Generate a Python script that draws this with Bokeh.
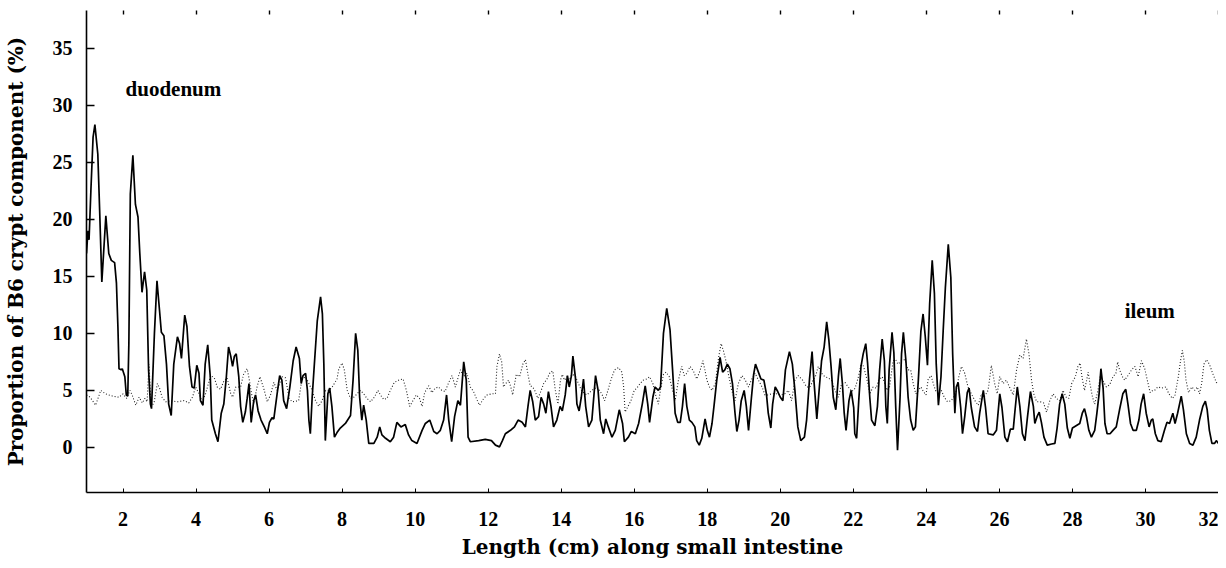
from bokeh.plotting import figure
from bokeh.models import LinearAxis, FixedTicker, Label, Range1d
from bokeh.embed import file_html
from bokeh.resources import INLINE

# B6 crypt component (solid line): position (cm), proportion (%)
b6_x = [1.0, 1.04, 1.07, 1.12, 1.18, 1.23, 1.31, 1.36, 1.42, 1.53, 1.61, 1.68, 1.77, 1.82, 1.86, 1.89,
        1.95, 1.98, 2.05, 2.09, 2.13, 2.16, 2.20, 2.27, 2.34, 2.41, 2.46, 2.52, 2.59, 2.65, 2.70, 2.75,
        2.78, 2.86, 2.93, 3.0, 3.05, 3.12, 3.19, 3.25, 3.32, 3.39, 3.49, 3.55, 3.60, 3.69, 3.75, 3.82,
        3.89, 3.95, 4.02, 4.08, 4.12, 4.19, 4.25, 4.32, 4.39, 4.43, 4.53, 4.60, 4.69, 4.76, 4.83, 4.89,
        4.95, 5.0, 5.05, 5.10, 5.17, 5.22, 5.28, 5.35, 5.40, 5.45, 5.51, 5.58, 5.63, 5.70, 5.78, 5.87,
        5.95, 6.01, 6.08, 6.13, 6.22, 6.29, 6.35, 6.40, 6.48, 6.57, 6.66, 6.74, 6.83, 6.88, 6.93, 7.0,
        7.05, 7.09, 7.13, 7.18, 7.24, 7.32, 7.41, 7.46, 7.50, 7.54, 7.61, 7.66, 7.72, 7.79, 7.86, 7.95,
        8.09, 8.23, 8.30, 8.37, 8.43, 8.48, 8.54, 8.59, 8.66, 8.73, 8.87, 8.96, 9.03, 9.09, 9.19, 9.32,
        9.41, 9.50, 9.61, 9.73, 9.82, 9.91, 10.05, 10.19, 10.28, 10.40, 10.51, 10.60, 10.69, 10.78, 10.86, 10.92,
        11.0, 11.08, 11.17, 11.24, 11.33, 11.40, 11.45, 11.51, 11.74, 11.92, 12.09, 12.20, 12.31, 12.39, 12.47, 12.61,
        12.72, 12.82, 12.93, 13.02, 13.09, 13.15, 13.22, 13.29, 13.38, 13.45, 13.52, 13.58, 13.65, 13.72, 13.79, 13.88,
        13.97, 14.03, 14.11, 14.17, 14.22, 14.28, 14.32, 14.39, 14.43, 14.49, 14.55, 14.61, 14.67, 14.75, 14.84, 14.94,
        15.01, 15.07, 15.16, 15.22, 15.29, 15.39, 15.48, 15.59, 15.68, 15.73, 15.84, 15.92, 16.03, 16.12, 16.22, 16.30,
        16.37, 16.42, 16.51, 16.57, 16.66, 16.72, 16.80, 16.89, 16.98, 17.05, 17.12, 17.19, 17.26, 17.32, 17.38, 17.44,
        17.51, 17.58, 17.66, 17.71, 17.78, 17.85, 17.94, 18.0, 18.06, 18.13, 18.19, 18.26, 18.35, 18.42, 18.48, 18.55,
        18.62, 18.69, 18.76, 18.81, 18.87, 18.93, 19.01, 19.07, 19.13, 19.21, 19.27, 19.32, 19.40, 19.47, 19.55, 19.62,
        19.67, 19.74, 19.79, 19.86, 19.93, 20.0, 20.07, 20.14, 20.25, 20.33, 20.40, 20.48, 20.56, 20.66, 20.72, 20.80,
        20.87, 20.92, 21.0, 21.07, 21.13, 21.20, 21.27, 21.33, 21.39, 21.45, 21.52, 21.59, 21.64, 21.70, 21.75, 21.80,
        21.88, 21.94, 22.01, 22.04, 22.09, 22.15, 22.21, 22.27, 22.34, 22.39, 22.45, 22.50, 22.59, 22.66, 22.72, 22.79,
        22.85, 22.89, 22.93, 22.98, 23.06, 23.11, 23.16, 23.21, 23.28, 23.32, 23.37, 23.44, 23.50, 23.57, 23.64, 23.70,
        23.78, 23.85, 23.91, 23.97, 24.03, 24.09, 24.16, 24.22, 24.27, 24.33, 24.40, 24.46, 24.52, 24.60, 24.67, 24.72,
        24.78, 24.82, 24.87, 24.94, 24.99, 25.05, 25.12, 25.17, 25.23, 25.32, 25.40, 25.46, 25.56, 25.62, 25.69, 25.83,
        25.92, 26.01, 26.07, 26.15, 26.22, 26.30, 26.38, 26.42, 26.49, 26.56, 26.63, 26.70, 26.77, 26.85, 26.93, 26.97,
        27.03, 27.09, 27.15, 27.22, 27.31, 27.43, 27.52, 27.58, 27.65, 27.72, 27.79, 27.86, 27.93, 28.0, 28.10, 28.20,
        28.27, 28.33, 28.39, 28.45, 28.52, 28.61, 28.67, 28.73, 28.78, 28.84, 28.89, 28.95, 29.03, 29.11, 29.20, 29.29,
        29.38, 29.46, 29.52, 29.59, 29.66, 29.75, 29.82, 29.88, 29.95, 30.02, 30.10, 30.16, 30.20, 30.27, 30.34, 30.43,
        30.52, 30.59, 30.66, 30.75, 30.81, 30.88, 30.98, 31.04, 31.12, 31.21, 31.30, 31.39, 31.48, 31.57, 31.64, 31.69,
        31.75, 31.82, 31.89, 31.94, 32.0]
b6_y = [17.0, 19.0, 18.2, 22.5, 27.2, 28.3, 25.7, 20.8, 14.5, 20.3, 17.0, 16.4, 16.2, 14.4, 10.6, 6.9,
        6.8, 6.9, 6.2, 4.6, 4.5, 9.1, 22.2, 25.6, 21.3, 20.2, 17.0, 13.6, 15.4, 13.8, 6.8, 3.8,
        3.4, 10.0, 14.6, 12.0, 10.1, 9.8, 7.3, 3.8, 2.8, 7.3, 9.7, 9.1, 7.8, 11.6, 10.6, 7.1,
        5.3, 5.2, 7.2, 6.5, 4.1, 3.7, 7.3, 9.0, 6.2, 2.4, 1.2, 0.5, 3.0, 3.8, 6.2, 8.8,
        8.0, 7.1, 8.0, 8.2, 6.2, 3.6, 2.2, 3.1, 4.3, 5.6, 2.2, 4.1, 4.6, 3.2, 2.4, 1.8,
        1.2, 2.2, 2.6, 2.5, 4.7, 6.3, 5.9, 4.1, 3.4, 5.3, 7.6, 8.8, 7.8, 5.6, 6.3, 6.5,
        5.0, 2.4, 1.2, 4.4, 7.3, 11.1, 13.2, 11.7, 7.3, 0.6, 4.7, 5.2, 3.6, 0.9, 1.3, 1.7,
        2.1, 2.8, 5.9, 10.0, 8.5, 4.4, 2.4, 3.7, 2.4, 0.35, 0.35, 0.9, 1.8, 1.1, 0.8, 0.5,
        0.9, 2.2, 1.8, 2.0, 1.1, 0.6, 0.35, 1.5, 2.1, 2.4, 1.4, 1.2, 1.5, 2.4, 4.6, 2.4,
        0.5, 2.7, 4.1, 3.7, 7.5, 5.9, 0.9, 0.5, 0.6, 0.7, 0.6, 0.2, 0.05, 0.6, 1.2, 1.5,
        1.8, 2.4, 2.2, 1.8, 3.6, 5.0, 4.0, 2.4, 2.7, 4.4, 3.8, 3.0, 4.9, 3.6, 1.8, 2.4,
        3.6, 3.2, 4.6, 6.3, 5.3, 6.3, 8.0, 6.1, 3.8, 3.2, 4.4, 6.0, 3.6, 1.8, 2.4, 6.3,
        5.0, 2.4, 1.2, 2.5, 1.8, 0.9, 1.5, 3.3, 2.1, 0.5, 0.9, 1.4, 1.2, 2.1, 3.8, 5.4,
        3.8, 2.2, 4.4, 5.3, 5.0, 5.3, 10.0, 12.2, 10.3, 6.8, 3.0, 2.2, 2.2, 3.6, 5.6, 3.6,
        2.4, 2.2, 1.8, 0.6, 0.2, 0.8, 2.5, 1.5, 0.9, 2.1, 3.8, 5.9, 7.9, 6.6, 6.8, 7.3,
        6.9, 5.6, 3.0, 1.4, 2.4, 4.1, 5.0, 3.6, 1.5, 4.4, 6.4, 7.3, 6.6, 6.0, 5.9, 4.7,
        3.0, 1.7, 3.8, 5.3, 4.9, 4.4, 4.1, 6.8, 8.4, 7.3, 5.0, 1.8, 0.6, 0.9, 2.4, 6.0,
        8.4, 5.9, 2.5, 5.3, 7.6, 8.8, 11.0, 9.4, 7.1, 4.4, 3.3, 6.2, 7.8, 5.6, 3.0, 1.5,
        4.1, 5.0, 3.5, 1.2, 0.8, 4.2, 7.1, 8.2, 9.1, 7.4, 4.4, 2.4, 1.9, 3.6, 6.8, 9.5,
        7.6, 3.6, 2.1, 6.8, 10.1, 8.3, 3.6, -0.24, 4.4, 8.2, 10.1, 7.6, 4.4, 2.4, 1.5, 1.8,
        5.9, 10.2, 11.7, 9.7, 7.2, 12.6, 16.4, 13.5, 7.3, 3.7, 6.2, 10.2, 14.0, 17.8, 14.9, 8.2,
        3.0, 5.3, 5.7, 3.5, 1.2, 2.7, 4.8, 5.2, 3.5, 1.8, 1.4, 3.0, 5.0, 3.5, 1.2, 1.1,
        1.5, 4.7, 3.5, 0.9, 0.5, 1.6, 1.6, 3.0, 5.3, 3.6, 1.2, 0.6, 2.7, 4.9, 3.6, 2.1,
        2.7, 3.1, 2.2, 0.9, 0.2, 0.3, 0.35, 1.7, 3.8, 4.7, 3.8, 1.7, 0.8, 1.7, 1.9, 2.1,
        3.0, 3.4, 2.6, 1.5, 0.9, 1.5, 3.0, 4.7, 6.9, 5.2, 2.1, 1.2, 1.2, 1.5, 1.8, 3.3,
        4.7, 5.1, 3.8, 2.1, 1.5, 1.5, 2.4, 3.8, 4.7, 3.0, 1.8, 2.4, 2.5, 1.2, 0.6, 0.5,
        1.5, 2.2, 2.1, 3.0, 2.1, 3.0, 4.5, 3.3, 1.2, 0.35, 0.2, 0.9, 2.4, 3.6, 4.05, 3.3,
        1.5, 0.35, 0.35, 0.6, 0.35]

# Comparison (dotted line)
ref_x = [1.0, 1.1, 1.25, 1.39, 1.52, 1.71, 1.89, 2.0, 2.10, 2.19, 2.25, 2.35, 2.44, 2.53, 2.60, 2.66,
         2.71, 2.77, 2.85, 2.94, 3.0, 3.07, 3.17, 3.31, 3.49, 3.67, 3.80, 3.90, 3.99, 4.08, 4.17, 4.26,
         4.40, 4.50, 4.58, 4.67, 4.76, 4.85, 4.95, 5.0, 5.09, 5.22, 5.30, 5.40, 5.46, 5.52, 5.58, 5.67,
         5.75, 5.86, 5.95, 6.04, 6.13, 6.22, 6.36, 6.45, 6.55, 6.63, 6.81, 6.90, 7.0, 7.09, 7.18, 7.27,
         7.36, 7.45, 7.55, 7.64, 7.73, 7.86, 7.91, 8.0, 8.06, 8.14, 8.23, 8.32, 8.41, 8.50, 8.59, 8.68,
         8.78, 8.88, 8.98, 9.05, 9.14, 9.23, 9.32, 9.43, 9.55, 9.67, 9.76, 9.85, 9.94, 10.03, 10.12, 10.19,
         10.26, 10.37, 10.46, 10.55, 10.64, 10.73, 10.82, 10.92, 11.01, 11.10, 11.24, 11.33, 11.42, 11.51, 11.60, 11.69,
         11.76, 11.88, 11.97, 12.10, 12.20, 12.24, 12.31, 12.37, 12.42, 12.48, 12.56, 12.62, 12.67, 12.77, 12.86, 12.95,
         13.02, 13.09, 13.15, 13.22, 13.29, 13.36, 13.44, 13.52, 13.61, 13.70, 13.77, 13.84, 13.91, 13.98, 14.03, 14.09,
         14.16, 14.22, 14.29, 14.38, 14.47, 14.57, 14.70, 14.84, 14.98, 15.11, 15.19, 15.28, 15.37, 15.46, 15.57, 15.66,
         15.71, 15.75, 15.83, 15.91, 16.0, 16.07, 16.16, 16.25, 16.34, 16.42, 16.51, 16.60, 16.66, 16.73, 16.80, 16.87,
         16.96, 17.05, 17.12, 17.21, 17.30, 17.37, 17.44, 17.53, 17.62, 17.71, 17.80, 17.88, 17.94, 17.99, 18.06, 18.13,
         18.22, 18.31, 18.38, 18.44, 18.51, 18.58, 18.67, 18.76, 18.85, 18.95, 19.04, 19.13, 19.22, 19.31, 19.40, 19.50,
         19.58, 19.67, 19.76, 19.89, 20.03, 20.12, 20.22, 20.31, 20.40, 20.49, 20.61, 20.72, 20.81, 20.90, 20.97, 21.04,
         21.13, 21.22, 21.31, 21.40, 21.50, 21.59, 21.68, 21.77, 21.86, 21.96, 22.05, 22.14, 22.22, 22.28, 22.37, 22.45,
         22.54, 22.63, 22.69, 22.79, 22.86, 22.93, 22.99, 23.09, 23.16, 23.22, 23.32, 23.41, 23.50, 23.57, 23.64, 23.71,
         23.78, 23.85, 23.92, 23.99, 24.05, 24.13, 24.19, 24.25, 24.33, 24.41, 24.49, 24.58, 24.68, 24.80, 24.89, 24.96,
         25.05, 25.14, 25.23, 25.33, 25.42, 25.51, 25.60, 25.69, 25.78, 25.87, 25.94, 26.01, 26.10, 26.19, 26.29, 26.38,
         26.47, 26.56, 26.65, 26.74, 26.81, 26.88, 26.94, 27.02, 27.12, 27.21, 27.29, 27.38, 27.47, 27.56, 27.65, 27.74,
         27.83, 27.90, 27.98, 28.08, 28.15, 28.21, 28.26, 28.33, 28.39, 28.43, 28.48, 28.55, 28.61, 28.70, 28.76, 28.83,
         28.93, 29.02, 29.11, 29.19, 29.24, 29.29, 29.37, 29.43, 29.52, 29.62, 29.71, 29.80, 29.89, 29.98, 30.05, 30.13,
         30.20, 30.25, 30.34, 30.45, 30.56, 30.64, 30.74, 30.81, 30.90, 30.96, 31.01, 31.06, 31.11, 31.18, 31.27, 31.35,
         31.42, 31.48, 31.54, 31.60, 31.67, 31.75, 31.84, 31.94, 32.0]
ref_y = [4.6, 4.4, 3.7, 5.0, 4.7, 4.5, 4.4, 4.7, 4.3, 5.0, 4.6, 3.7, 4.4, 3.9, 4.3, 4.0,
         7.3, 3.6, 3.9, 5.6, 5.2, 4.4, 4.0, 4.1, 4.0, 4.1, 3.9, 4.4, 5.3, 4.7, 4.0, 4.7,
         6.3, 6.1, 5.3, 5.1, 5.8, 6.1, 4.7, 4.4, 5.3, 5.3, 6.4, 6.9, 5.9, 4.7, 3.8, 5.3,
         6.2, 5.1, 4.0, 4.6, 5.7, 5.0, 6.2, 6.1, 4.3, 4.0, 4.1, 6.0, 6.2, 5.6, 5.0, 4.1,
         3.6, 4.1, 5.0, 5.0, 5.3, 6.0, 6.9, 7.4, 6.8, 5.0, 4.3, 4.4, 4.7, 5.0, 4.7, 4.3,
         4.0, 4.4, 5.0, 4.6, 4.2, 4.3, 5.0, 5.7, 5.9, 6.0, 5.0, 3.6, 4.1, 4.6, 4.3, 3.6,
         4.8, 5.4, 4.8, 5.2, 5.3, 5.0, 4.9, 5.7, 6.3, 5.3, 6.8, 6.2, 6.5, 5.3, 4.9, 4.2,
         3.7, 4.3, 4.6, 4.7, 4.7, 7.1, 8.2, 7.5, 5.3, 5.6, 5.9, 5.3, 4.6, 6.4, 6.2, 7.3,
         7.7, 6.4, 5.4, 5.3, 4.9, 4.3, 4.9, 5.6, 6.0, 6.6, 6.7, 5.0, 3.8, 5.9, 6.4, 5.9,
         6.2, 5.9, 6.4, 6.3, 5.6, 4.9, 4.6, 5.0, 5.3, 4.7, 4.1, 5.0, 6.0, 6.8, 7.0, 6.6,
         5.3, 3.1, 3.6, 4.1, 5.0, 5.2, 5.6, 5.9, 6.0, 6.2, 5.6, 4.4, 3.8, 5.3, 6.4, 6.6,
         6.2, 5.0, 4.1, 5.9, 7.1, 6.3, 6.5, 7.1, 6.7, 6.0, 6.7, 7.6, 6.7, 5.9, 5.3, 5.0,
         5.6, 7.9, 9.1, 8.5, 7.6, 6.4, 5.0, 4.1, 5.6, 6.3, 5.9, 5.3, 6.0, 6.5, 5.9, 5.3,
         4.6, 4.6, 4.7, 4.7, 4.6, 4.7, 5.0, 4.1, 5.9, 6.3, 5.9, 5.3, 5.3, 5.9, 6.3, 7.1,
         6.5, 6.2, 6.1, 5.9, 5.0, 4.4, 5.6, 5.7, 5.3, 4.9, 5.2, 6.2, 7.4, 7.1, 6.0, 4.7,
         5.3, 5.2, 5.9, 6.2, 5.6, 5.0, 5.3, 7.6, 7.7, 7.3, 7.6, 7.7, 6.8, 6.8, 5.6, 4.7,
         5.0, 5.3, 4.9, 4.6, 6.0, 6.3, 5.6, 5.0, 4.7, 5.0, 4.4, 4.0, 4.1, 4.7, 6.2, 7.1,
         6.5, 5.3, 4.7, 4.1, 3.7, 4.7, 4.5, 5.0, 7.2, 5.6, 4.7, 6.2, 5.6, 5.9, 5.2, 4.6,
         6.8, 8.1, 7.8, 9.5, 8.2, 5.9, 4.7, 4.0, 4.0, 3.9, 3.1, 4.1, 4.7, 4.3, 4.1, 5.0,
         4.4, 4.3, 5.6, 6.2, 7.1, 7.4, 6.2, 5.0, 5.9, 6.6, 5.6, 4.4, 3.8, 5.0, 6.2, 5.9,
         5.3, 5.5, 6.2, 6.5, 7.5, 6.8, 6.2, 5.9, 6.3, 6.8, 7.1, 6.2, 7.6, 6.9, 5.9, 4.8,
         5.0, 5.0, 5.3, 5.2, 5.3, 4.7, 4.3, 4.6, 6.2, 7.6, 8.5, 7.6, 5.9, 4.8, 5.3, 5.0,
         5.3, 4.7, 5.6, 7.3, 7.7, 7.3, 6.5, 5.7, 5.6]

x_ticks = [2, 4, 6, 8, 10, 12, 14, 16, 18, 20, 22, 24, 26, 28, 30, 32]
y_ticks = [0, 5, 10, 15, 20, 25, 30, 35]
region_labels = ["duodenum", "ileum"]
region_x = [2.07, 29.43]
region_y = [31.4, 12.0]

FONT = "Liberation Serif"
LABEL_FONT = "DejaVu Serif"

p = figure(width=1218, height=566, output_backend="svg", toolbar_location=None,
           x_range=Range1d(1, 32), y_range=Range1d(-3.95, 38.3),
           x_axis_label="Length (cm) along small intestine",
           y_axis_label="Proportion of B6 crypt component (%)")
p.min_border_left = 86
p.min_border_right = 0
p.min_border_top = 10
p.min_border_bottom = 74
p.outline_line_color = None
p.grid.visible = False
p.background_fill_color = "white"
p.border_fill_color = "white"

p.line(ref_x, ref_y, line_color="#222222", line_width=1.1, line_dash="1 2")
p.line(b6_x, b6_y, line_color="black", line_width=1.7)

for ax in (p.xaxis[0], p.yaxis[0]):
    ax.axis_line_color = "black"
    ax.axis_line_width = 1.6
    ax.major_tick_out = 0
    ax.minor_tick_line_color = None
    ax.major_label_text_font = FONT
    ax.major_label_text_font_style = "bold"
    ax.major_label_text_font_size = "20px"
    ax.major_label_text_color = "black"
    ax.axis_label_text_font = LABEL_FONT
    ax.axis_label_text_font_style = "bold"
    ax.axis_label_text_font_size = "20px"
    ax.axis_label_text_color = "black"
    ax.major_tick_line_color = "black"

p.xaxis[0].ticker = FixedTicker(ticks=x_ticks)
p.xaxis[0].major_tick_in = 4
p.xaxis[0].major_label_standoff = 19
p.xaxis[0].axis_label_standoff = 6
p.yaxis[0].ticker = FixedTicker(ticks=y_ticks)
p.yaxis[0].major_tick_in = 8
p.yaxis[0].major_tick_line_width = 1.4
p.yaxis[0].major_label_standoff = 14
p.yaxis[0].axis_label_standoff = 22

top = LinearAxis(ticker=FixedTicker(ticks=x_ticks), axis_line_color=None,
                 major_tick_in=4, major_tick_out=0, minor_tick_line_color=None,
                 major_label_text_font_size="0px", major_label_standoff=0,
                 major_tick_line_color="black", major_tick_line_width=1.4)
p.add_layout(top, "above")

for t, x, y in zip(region_labels, region_x, region_y):
    p.add_layout(Label(x=x, y=y, text=t, text_font=FONT, text_font_style="bold",
                       text_font_size="21px", text_baseline="middle", text_color="black"))

open("out.html", "w").write(file_html(p, INLINE))
